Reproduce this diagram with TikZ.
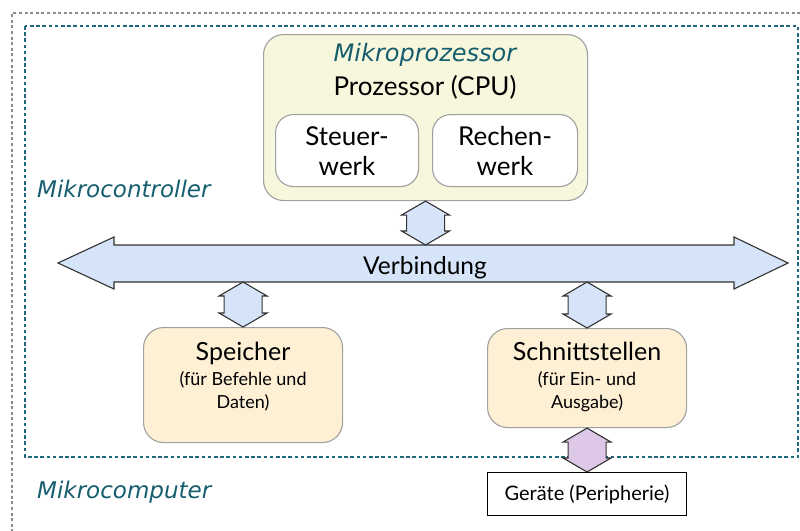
\documentclass[tikz,border=0pt]{standalone}
\usepackage{fontspec}
\setmainfont{Lato}
\newfontfamily\tealfont{DejaVu Sans}
\usetikzlibrary{calc}

\definecolor{tealtext}{RGB}{22,94,110}
\definecolor{tealframe}{RGB}{30,105,125}
\definecolor{grayframe}{RGB}{140,140,140}
\definecolor{procfill}{RGB}{247,247,221}
\definecolor{unitfill}{RGB}{253,240,213}
\definecolor{busfill}{RGB}{214,228,250}
\definecolor{iofill}{RGB}{221,200,232}
\definecolor{boxline}{RGB}{160,160,160}
\definecolor{arrowline}{RGB}{50,50,50}

% vertical double-headed link between two points on one vertical line
\newcommand\vlink[3]{%
  \path[draw=arrowline, line width=1.1pt, fill=#3, line join=miter]
    let \p1=(#1), \p2=(#2) in
    (\x1,\y1) -- (\x1+24pt,\y1-14pt) -- (\x1+19pt,\y1-14pt) --
    (\x1+19pt,\y2+14pt) -- (\x1+24pt,\y2+14pt) -- (\x1,\y2) --
    (\x1-24pt,\y2+14pt) -- (\x1-19pt,\y2+14pt) -- (\x1-19pt,\y1-14pt) --
    (\x1-24pt,\y1-14pt) -- cycle;}

\tikzset{
  outerframe/.style={draw=grayframe, line width=2.6pt, dash pattern=on 3pt off 2.6pt},
  innerframe/.style={draw=tealframe, line width=2.8pt, dash pattern=on 3.6pt off 2.6pt},
  procbox/.style={draw=boxline, line width=1.1pt, fill=procfill, rounded corners=20pt, anchor=north west},
  subbox/.style={draw=boxline, line width=1.1pt, fill=white, rounded corners=18pt, anchor=north west},
  unitbox/.style={draw=boxline, line width=1.1pt, fill=unitfill, rounded corners=20pt, anchor=north west},
  devbox/.style={draw=black, line width=1pt, fill=white, anchor=north west},
  bus/.style={draw=arrowline, line width=1.1pt, fill=busfill, line join=miter},
  teallabel/.style={text=tealtext, font=\tealfont\itshape\fontsize{23}{26}\selectfont, inner sep=0pt},
  bigtext/.style={font=\fontsize{26}{30}\selectfont, inner sep=0pt, align=center, anchor=base},
  smalltext/.style={font=\fontsize{18}{23}\selectfont, inner sep=0pt, align=center, anchor=base},
}

\begin{document}
\begin{tikzpicture}[x=1pt,y=-1pt]
\useasboundingbox (0,0) rectangle (800,530);

% Mikrocomputer and Mikrocontroller frames
\draw[outerframe] (806,13) -- (12,13) -- (12,536);
\draw[innerframe] (25,26) rectangle (798,457);

\node[teallabel, anchor=base west] (mc) at (37,197) {Mikrocontroller};
\node[teallabel, anchor=base west] (mcomp) at (37,498) {Mikrocomputer};

% processor with its two units
\node[procbox, minimum width=324pt, minimum height=166pt] (proc) at (263,34) {};
\node[teallabel, anchor=base, font=\tealfont\itshape\fontsize{24}{26}\selectfont] (proctitle) at (425,61) {Mikroprozessor};
\node[bigtext] (cpu) at (425,95) {Prozessor (CPU)};
\node[subbox, minimum width=143pt, minimum height=72pt] (steuer) at (275,114) {};
\node[subbox, minimum width=145pt, minimum height=72pt] (rechen) at (432,114) {};
% base of a two-line node is the baseline of its last line
\node[bigtext] at (steuer.center |- 0,175) {Steuer-\\werk};
\node[bigtext] at (rechen.center |- 0,175) {Rechen-\\werk};

% bus
\coordinate (busL) at (58,263);
\coordinate (busR) at (788,263);
\coordinate (busN) at (425,245);
\coordinate (busS) at (425,282);
\draw[bus] (busL) -- ($(busL)+(56,-26)$) -- ($(busL)+(56,-18)$) --
  ($(busR)+(-54,-18)$) -- ($(busR)+(-54,-26)$) -- (busR) --
  ($(busR)+(-54,26)$) -- ($(busR)+(-54,19)$) -- ($(busL)+(56,19)$) --
  ($(busL)+(56,26)$) -- cycle;
\node[bigtext, font=\fontsize{24.5}{30}\selectfont] (busname) at (425,274) {Verbindung};

% memory and interfaces
\node[unitbox, minimum width=199pt, minimum height=115pt] (mem) at (143,327) {};
\node[unitbox, minimum width=199pt, minimum height=99pt] (io) at (487,328) {};
\node[bigtext, font=\fontsize{25}{30}\selectfont] at (mem.center |- 0,360) {Speicher};
\node[smalltext] at (mem.center |- 0,408) {(für Befehle und\\Daten)};
\node[bigtext, font=\fontsize{25}{30}\selectfont] at (io.center |- 0,360) {Schnittstellen};
\node[smalltext] at (io.center |- 0,408) {(für Ein- und\\Ausgabe)};

% peripheral devices
\node[devbox, minimum width=199pt, minimum height=43pt] (dev) at (487,472) {};
\node[smalltext, font=\fontsize{20}{22}\selectfont] at (dev.center |- 0,500) {Geräte (Peripherie)};

% links
\vlink{proc.south}{proc.south |- busN}{busfill}
\vlink{mem.north |- busS}{mem.north}{busfill}
\vlink{io.north |- busS}{io.north}{busfill}
\vlink{io.south}{dev.north}{iofill}
\end{tikzpicture}
\end{document}
